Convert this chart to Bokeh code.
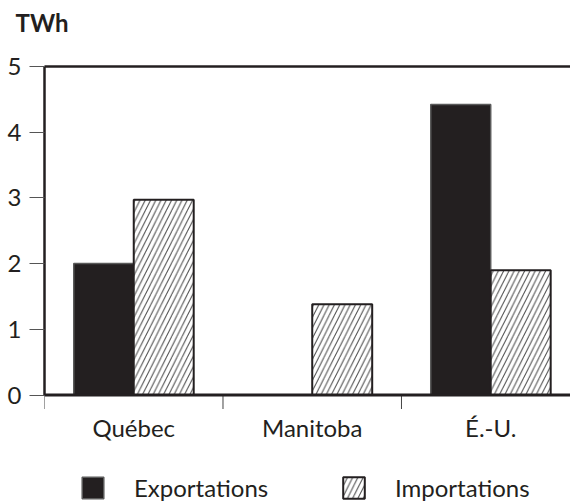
from bokeh.plotting import figure
from bokeh.models import (Range1d, FixedTicker, LinearAxis, Legend, ColumnDataSource, Span)
from bokeh.core.properties import value
from bokeh.embed import file_html
from bokeh.resources import INLINE

# ---- data ----
categories = ["Québec", "Manitoba", "É.-U."]
exportations = [2.0, 0.0, 4.42]
importations = [2.97, 1.38, 1.9]
y_ticks = [0, 1, 2, 3, 4, 5]
y_max = 5

DARK = "#231f20"
FONT = "Lato"

centers = [i + 0.5 for i in range(len(categories))]
bounds = [float(i) for i in range(len(categories))]
bar_w = 0.336
src = ColumnDataSource(dict(
    cat=categories,
    xe=[c - bar_w / 2 for c in centers],
    xi=[c + bar_w / 2 for c in centers],
    exp=exportations,
    imp=importations,
))

# frame: x 44..570 px, y 66..503 px ; 0 at 394.5 px, 5 at 66 px
px_per_unit = (394.5 - 66) / y_max
y_low = -(503 - 394.5) / px_per_unit

p = figure(width=570, height=503, output_backend="svg", toolbar_location=None,
           x_range=Range1d(0, 2.947), y_range=Range1d(y_low, y_max),
           x_axis_type=None, y_axis_type=None,
           min_border_left=44, min_border_right=0,
           min_border_top=66, min_border_bottom=0)
p.outline_line_color = None
p.background_fill_color = "white"
p.border_fill_color = "white"

r_exp = p.vbar(x="xe", top="exp", bottom=0, width=bar_w, source=src,
               fill_color=DARK, line_color="#5a5a5a", line_width=1.5)
r_imp = p.vbar(x="xi", top="imp", bottom=0, width=bar_w, source=src,
               fill_color="white", line_color=DARK, line_width=2,
               hatch_pattern="/", hatch_color="#444444", hatch_weight=1,
               hatch_scale=10.5)

# baseline
p.add_layout(Span(location=0, dimension="width", line_color=DARK, line_width=3))

# category separators below the baseline
sep_len = 14 / px_per_unit
p.segment(x0=bounds, y0=[0] * len(bounds), x1=bounds,
          y1=[-sep_len] * len(bounds), line_color="#444444", line_width=1)

# category labels
p.text(x=centers, y=[0] * len(centers), text=categories, y_offset=18,
       text_align="center", text_baseline="top", text_font=value(FONT),
       text_font_size="24px", text_color=DARK)

# left axis
yax = LinearAxis(ticker=FixedTicker(ticks=y_ticks, minor_ticks=[]), bounds=(0, y_max))
yax.axis_line_color = DARK
yax.axis_line_width = 2.5
yax.major_tick_line_color = "#555555"
yax.major_tick_line_width = 1
yax.major_tick_out = 15
yax.major_tick_in = 0
yax.minor_tick_line_color = None
yax.major_label_standoff = 8
yax.major_label_text_font = FONT
yax.major_label_text_font_size = "24px"
yax.major_label_text_color = DARK
p.add_layout(yax, "left")

# top frame line (an invisible tick extent pushes the title upward)
tax = LinearAxis(ticker=FixedTicker(ticks=[0.0], minor_ticks=[]))
tax.major_label_overrides = {0.0: ""}
tax.axis_line_color = DARK
tax.axis_line_width = 2.5
tax.major_tick_out = 26
tax.major_tick_in = 0
tax.major_label_standoff = 0
tax.major_label_text_font_size = "0px"
tax.major_tick_line_color = None
tax.minor_tick_line_color = None
p.add_layout(tax, "above")

# title
p.title.text = "TWh"
p.title.text_font = FONT
p.title.text_font_size = "24px"
p.title.text_font_style = "bold"
p.title.text_color = DARK
p.title.align = "left"
p.title.offset = -29
p.title.vertical_align = "bottom"
p.title.standoff = 8

legend = Legend(items=[("Exportations", [r_exp]), ("Importations", [r_imp])],
                orientation="horizontal", glyph_width=27, glyph_height=27,
                label_standoff=28, spacing=71, label_width=135,
                label_text_font=FONT, label_text_font_size="24px",
                label_text_color=DARK, padding=0, margin=0,
                border_line_color=None, background_fill_alpha=0,
                location=(35, 1))
p.add_layout(legend, "center")

open("out.html", "w").write(file_html(p, INLINE))
